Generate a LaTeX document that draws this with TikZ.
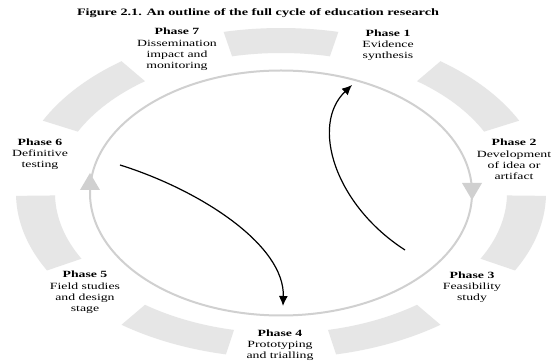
\documentclass[tikz,border=0pt]{standalone}
\usepackage{fontspec}
\setmainfont{Liberation Serif}[FakeStretch=1.45]
\usetikzlibrary{arrows.meta}
\definecolor{segfill}{RGB}{230,230,230}
\definecolor{ringline}{RGB}{208,208,208}
\begin{document}
\begin{tikzpicture}[x=1pt,y=1pt,
  seg/.style={fill=segfill, draw=none},
  ring/.style={draw=ringline, line width=2pt},
  ringtip/.style={fill=ringline, draw=none},
  phase/.style={align=center, inner sep=0pt, font=\fontsize{9.5}{11.2}\selectfont},
  flow/.style={draw=black, line width=1.2pt, -{Latex[length=10pt,width=9pt]}}]
% canvas
\useasboundingbox (-281,-170) rectangle (272,193);
\fill[white] (-281,-170) rectangle (272,193);

% title
\node[font=\fontsize{9.8}{11}\selectfont\bfseries, inner sep=0pt] (title) at (-23,180)
  {Figure 2.1. An outline of the full cycle of education research};

% outer ring: seven segments
\def\rxi{226}\def\ryi{140}\def\rxo{265}\def\ryo{165}
\foreach \a/\b in {77.5/102.5, 26/53, -28/-1, -78/-53, 233/258, 181/208, 127/154}{
  \fill[seg] (\a:\rxo pt and \ryo pt)
     arc[start angle=\a, end angle=\b, x radius=\rxo, y radius=\ryo]
     -- (\b:\rxi pt and \ryi pt)
     arc[start angle=\b, end angle=\a, x radius=\rxi, y radius=\ryi] -- cycle;
}

% inner cycle with its two direction marks
\draw[ring] (0,0) ellipse[x radius=191, y radius=122.5];
\fill[ringtip] (181,10) -- (201,10) -- (191,-7) -- cycle;
\fill[ringtip] (-201,3) -- (-181,3) -- (-191,20) -- cycle;

% phase labels
\node[phase] (p1) at (107,148) {\textbf{Phase 1}\\Evidence\\synthesis};
\node[phase] (p2) at (233,33.5) {\textbf{Phase 2}\\Development\\of idea or\\artifact};
\node[phase] (p3) at (191,-94) {\textbf{Phase 3}\\Feasibility\\study};
\node[phase] (p4) at (-1,-152) {\textbf{Phase 4}\\Prototyping\\and trialling};
\node[phase] (p5) at (-196,-99.5) {\textbf{Phase 5}\\Field studies\\and design\\stage};
\node[phase] (p6) at (-241,39) {\textbf{Phase 6}\\Definitive\\testing};
\node[phase] (p7) at (-104,143.5) {\textbf{Phase 7}\\Dissemination\\impact and\\monitoring};

% feedback arrows across the cycle
\coordinate (fromfeas) at (124,-57);
\coordinate (toevid) at (71,108);
\coordinate (fromdef) at (-161,28);
\coordinate (toproto) at (2,-113);
\draw[flow] (fromfeas) .. controls (54,-12) and (29,68) .. (toevid);
\draw[flow] (fromdef) .. controls (-81,3) and (4,-52) .. (toproto);
\end{tikzpicture}
\end{document}
